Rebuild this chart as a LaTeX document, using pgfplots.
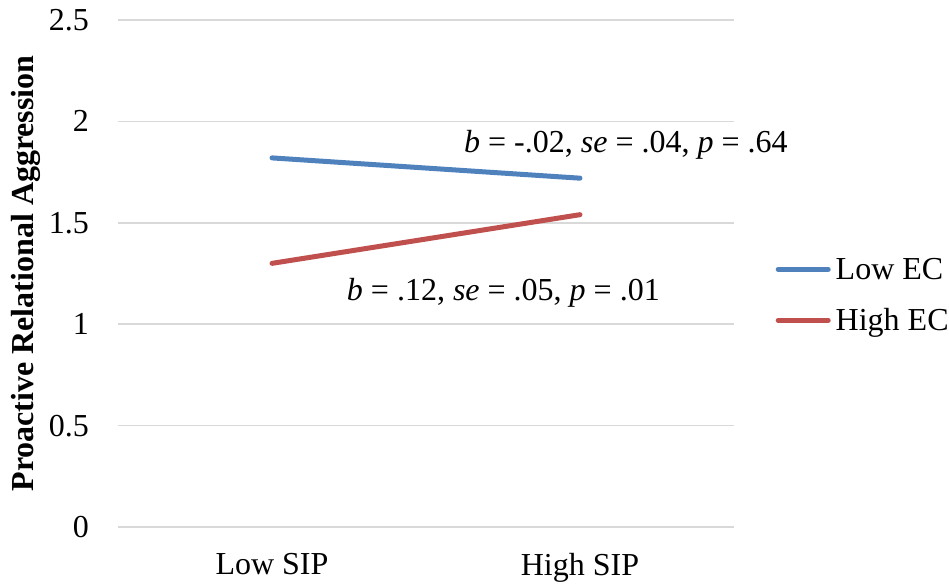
\documentclass[border=0pt]{standalone}
\usepackage{fontspec}
\setmainfont{Liberation Serif}
\usepackage{pgfplots}
\pgfplotsset{compat=1.18}
\definecolor{lowec}{HTML}{4F81BD}
\definecolor{highec}{HTML}{C0504D}
\definecolor{gridc}{HTML}{D9D9D9}
\begin{document}
\begin{tikzpicture}
\path[use as bounding box] (0,0) rectangle (949bp,588bp);
\begin{axis}[
  at={(118bp,61bp)}, anchor=south west,
  scale only axis, width=616bp, height=507bp,
  xmin=-0.5, xmax=1.5, ymin=0, ymax=2.5,
  clip=false,
  xtick={0,1}, xticklabels={Low SIP, High SIP},
  ytick={0,0.5,1,1.5,2,2.5},
  /pgf/number format/assume math mode=true,
  font=\fontsize{32bp}{38bp}\selectfont,
  axis line style={draw=none},
  tick style={draw=none}, major tick length=0pt,
  ymajorgrids, major grid style={draw=gridc, line width=1.5bp},
  yticklabel style={inner sep=0pt, anchor=east, xshift=-29bp},
  xticklabel style={inner sep=0pt, anchor=north, yshift=-26bp},
  ylabel={\bfseries Proactive Relational Aggression},
  ylabel style={at={(axis description cs:-0.149,0.5)}, anchor=center, rotate=0, inner sep=0pt},
  legend image code/.code={\draw[#1, line cap=round] (0bp,10bp) -- (50bp,10bp);},
  legend style={draw=none, fill=none, inner sep=0pt, at={(rel axis cs:1.0674,0.5325)}, anchor=north west,
    row sep=22bp, column sep=5bp,
    cells={anchor=base west},
    nodes={inner sep=0pt, text height=22bp, text depth=7bp, anchor=base west}},
]
\addplot[lowec, line width=5bp, line cap=round] coordinates {(0,1.82) (1,1.72)};
\addlegendentry{Low EC}
\addplot[highec, line width=5bp, line cap=round] coordinates {(0,1.30) (1,1.54)};
\addlegendentry{High EC}
\node[anchor=base west, inner sep=0pt] at (axis cs:0.6234,1.8442) {\textit{b} = -.02, \textit{se} = .04, \textit{p} = .64};
\node[anchor=base east, inner sep=0pt] at (axis cs:1.2597,1.1193) {\textit{b} = .12, \textit{se} = .05, \textit{p} = .01};
\end{axis}
\end{tikzpicture}
\end{document}
